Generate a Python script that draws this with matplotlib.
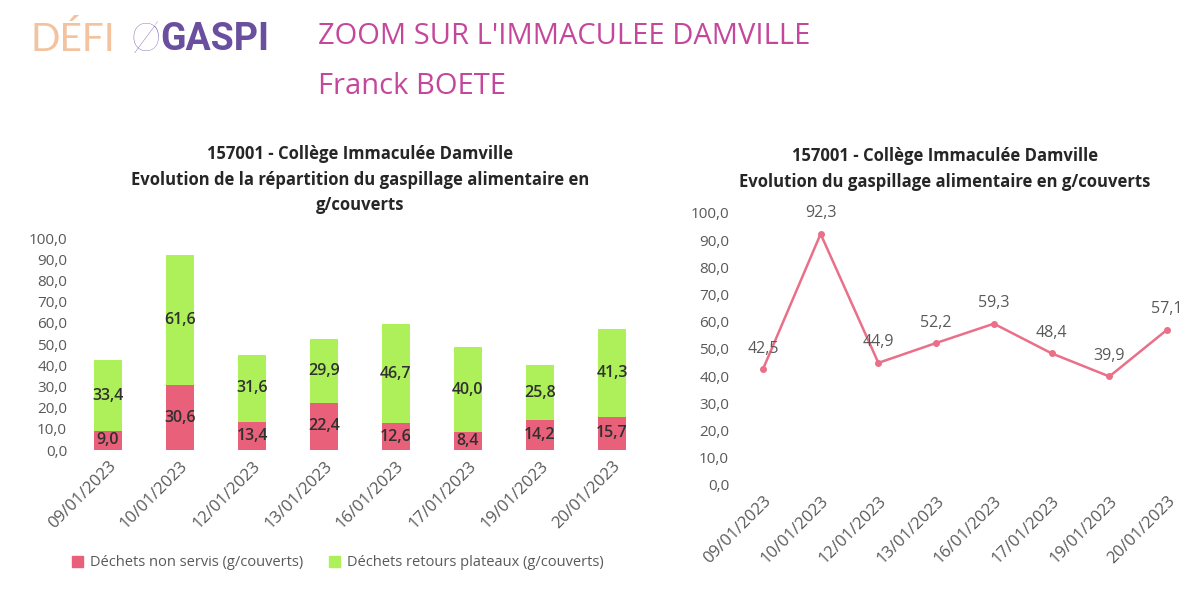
import matplotlib
matplotlib.use('Agg')
import matplotlib.pyplot as plt
import numpy as np
from matplotlib.patches import Patch

# data
dates = ['09/01/2023', '10/01/2023', '12/01/2023', '13/01/2023',
         '16/01/2023', '17/01/2023', '19/01/2023', '20/01/2023']
non_servis = [9.0, 30.6, 13.4, 22.4, 12.6, 8.4, 14.2, 15.7]
retours = [33.4, 61.6, 31.6, 29.9, 46.7, 40.0, 25.8, 41.3]
total = [42.5, 92.3, 44.9, 52.2, 59.3, 48.4, 39.9, 57.1]

plt.rcParams['font.family'] = ['Open Sans', 'DejaVu Sans']

RED = '#e9607a'
GREEN = '#aef05a'
GREY = '#595959'
LINE = '#ea6f88'


def fmt(v):
    return ('%.1f' % v).replace('.', ',')


fig = plt.figure(figsize=(12, 5.89), dpi=100)
fig.patch.set_facecolor('white')

# header
fig.text(30 / 1200, 1 - 40 / 589, 'DÉFI', fontsize=28, color='#f3c29e', va='center',
         fontweight='normal', family='Lato')
fig.text(130 / 1200, 1 - 40 / 589, 'Ø', fontsize=28, color='#7a5fb0', va='center',
         fontweight='light', family='Lato')
fig.text(160 / 1200, 1 - 40 / 589, 'GASPI', fontsize=27, color='#6a4f9e', va='center',
         fontweight='bold', family='Roboto')
fig.text(318 / 1200, 1 - 37 / 589, "ZOOM SUR L'IMMACULEE DAMVILLE", fontsize=21,
         color='#c4479c', va='center', family='Open Sans')
fig.text(318 / 1200, 1 - 86 / 589, 'Franck BOETE', fontsize=21,
         color='#c4479c', va='center', family='Open Sans')

x = np.arange(len(dates))

# left: stacked bars
ax1 = fig.add_axes([72 / 1200, 1 - 450 / 589, 576 / 1200, 212 / 589])
ax1.bar(x, non_servis, width=0.39, color=RED)
ax1.bar(x, retours, width=0.39, bottom=non_servis, color=GREEN)
for i in range(len(dates)):
    ax1.text(x[i], non_servis[i] / 2, fmt(non_servis[i]), ha='center', va='center',
             fontsize=11.5, color='#303030', fontweight='semibold')
    ax1.text(x[i], non_servis[i] + retours[i] / 2, fmt(retours[i]), ha='center', va='center',
             fontsize=11.5, color='#303030', fontweight='semibold')
ax1.set_xlim(-0.5, 7.5)
ax1.set_ylim(0, 100)
ax1.set_yticks(np.arange(0, 101, 10))
ax1.set_yticklabels([fmt(v) for v in np.arange(0, 101, 10)])
ax1.set_xticks(x)
ax1.set_xticklabels(dates, rotation=45, ha='right', rotation_mode='anchor')
ax1.tick_params(length=0, labelsize=11, labelcolor=GREY)
ax1.tick_params(axis='x', pad=6, labelsize=12)
for s in ax1.spines.values():
    s.set_visible(False)
ax1.set_title('157001 - Collège Immaculée Damville\nEvolution de la répartition du gaspillage alimentaire en\ng/couverts',
              fontsize=12, fontweight='bold', color='#262626', pad=20, linespacing=1.55)
fig.legend(handles=[Patch(color=RED, label='Déchets non servis (g/couverts)'),
                    Patch(color=GREEN, label='Déchets retours plateaux (g/couverts)')],
           loc='center', bbox_to_anchor=(338 / 1200, 1 - 563 / 589), ncol=2, frameon=False,
           fontsize=10.5, labelcolor=GREY, handlelength=0.7, handleheight=0.7,
           handletextpad=0.5, columnspacing=1.8)

# right: line
ax2 = fig.add_axes([734 / 1200, 1 - 485 / 589, 462 / 1200, 272 / 589])
ax2.plot(x, total, color=LINE, lw=1.8, marker='o', markersize=4)
for i in range(len(dates)):
    ax2.annotate(fmt(total[i]), (x[i], total[i]), xytext=(0, 9), textcoords='offset points',
                 ha='center', va='bottom', fontsize=11.5, color=GREY)
ax2.set_xlim(-0.5, 7.5)
ax2.set_ylim(0, 100)
ax2.set_yticks(np.arange(0, 101, 10))
ax2.set_yticklabels([fmt(v) for v in np.arange(0, 101, 10)])
ax2.set_xticks(x)
ax2.set_xticklabels(dates, rotation=45, ha='right', rotation_mode='anchor')
ax2.tick_params(length=0, labelsize=11, labelcolor=GREY)
ax2.tick_params(axis='x', pad=6, labelsize=12)
for s in ax2.spines.values():
    s.set_visible(False)
fig.text(945 / 1200, 1 - 169 / 589,
         '157001 - Collège Immaculée Damville\nEvolution du gaspillage alimentaire en g/couverts',
         ha='center', va='center', fontsize=12, fontweight='bold', color='#262626', linespacing=1.55)

fig.savefig('out.png', dpi=100, facecolor='white')
